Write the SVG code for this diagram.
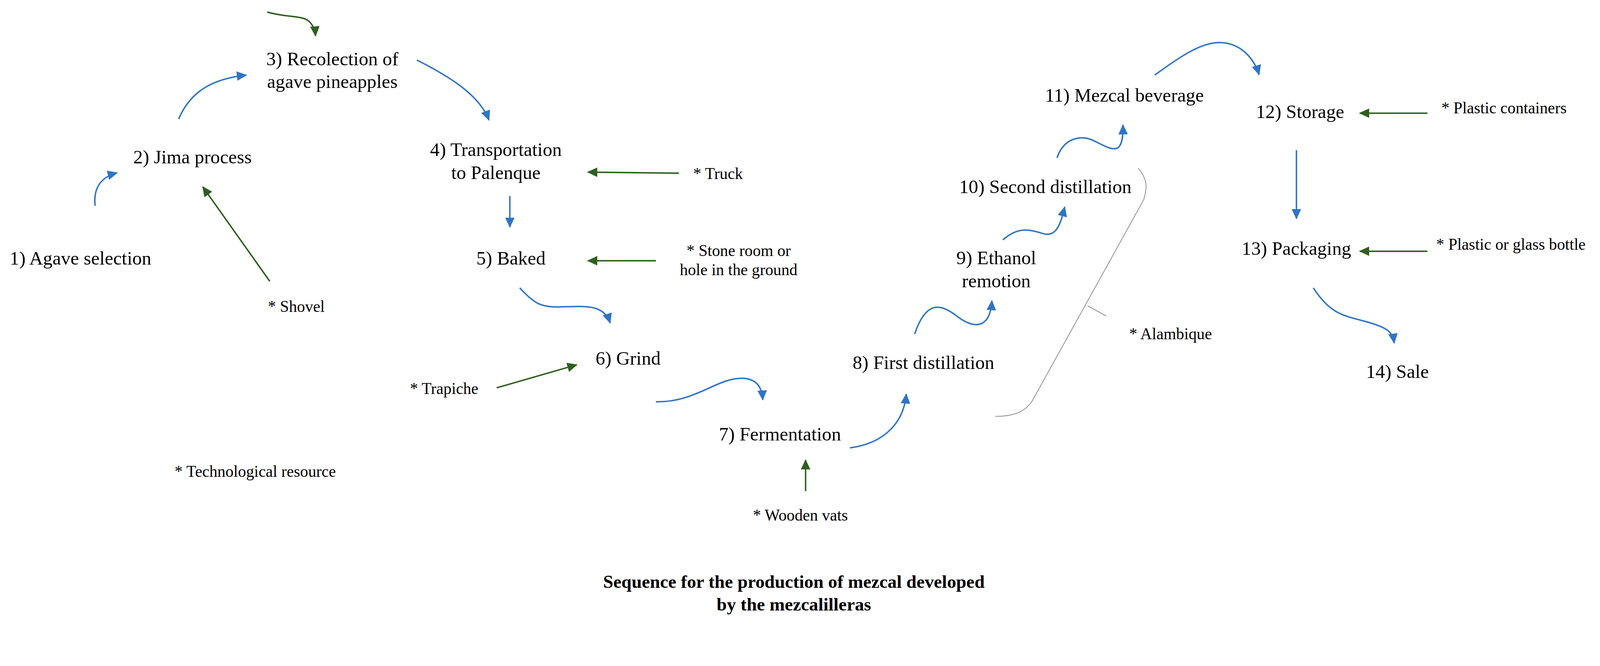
<svg xmlns="http://www.w3.org/2000/svg" width="4354" height="1704" viewBox="0 0 4354 1704" font-family="'Liberation Serif', 'DejaVu Serif', serif">
<style>
text{font-family:'Liberation Serif','DejaVu Serif',serif;fill:#000}
.n{font-size:52px;text-anchor:middle}
.r{font-size:44px}
.t{font-size:50px;font-weight:bold;text-anchor:middle}
.b{fill:none;stroke:#2e75c6;stroke-width:4;marker-end:url(#mb)}
.g{fill:none;stroke:#2f5f1f;stroke-width:4;marker-end:url(#mg)}
.k{fill:none;stroke:#8a8a8a;stroke-width:2}
</style>
<defs>
<marker id="mb" markerUnits="userSpaceOnUse" markerWidth="30" markerHeight="26" refX="26" refY="13" orient="auto"><path d="M0,0 L28,13 L0,26 Z" fill="#2e75c6"/></marker>
<marker id="mg" markerUnits="userSpaceOnUse" markerWidth="30" markerHeight="26" refX="26" refY="13" orient="auto"><path d="M0,0 L28,13 L0,26 Z" fill="#2f5f1f"/></marker>
</defs>
<rect width="4354" height="1704" fill="#fff"/>
<g transform="scale(0.937)">
<g id="connectors">
<path class="g" d="M730,33 C790,50 830,40 848,62 C858,74 861,84 862,98"/>
<path class="b" d="M260,562 C255,520 270,485 320,472"/>
<path class="b" d="M488,325 C520,250 580,215 673,205"/>
<path class="b" d="M1139,164 C1230,210 1310,260 1336,328"/>
<path class="b" d="M1393,535 L1393,620"/>
<path class="g" d="M1855,473 L1606,470"/>
<path class="g" d="M1792,712 L1606,712"/>
<path class="b" d="M1420,786 C1460,830 1480,840 1530,838 C1600,836 1650,830 1667,882"/>
<path class="g" d="M737,768 L554,510"/>
<path class="g" d="M1357,1059 L1576,996"/>
<path class="b" d="M1792,1097 C1900,1100 1960,1030 2030,1033 C2070,1035 2082,1060 2084,1092"/>
<path class="g" d="M2201,1341 L2201,1256"/>
<path class="b" d="M2322,1223 C2420,1210 2470,1150 2476,1076"/>
<path class="b" d="M2499,912 C2530,820 2570,830 2610,860 C2660,900 2705,900 2710,821"/>
<path class="b" d="M2740,655 C2780,620 2810,625 2850,638 C2890,650 2900,600 2909,565"/>
<path class="b" d="M2888,431 C2905,380 2950,365 2990,385 C3040,410 3070,430 3068,341"/>
<path class="b" d="M3155,205 C3230,150 3290,110 3345,117 C3400,124 3430,170 3440,204"/>
<path class="g" d="M3900,309 L3715,309"/>
<path class="b" d="M3542,410 L3542,597"/>
<path class="g" d="M3900,686 L3715,686"/>
<path class="b" d="M3588,786 C3630,850 3660,860 3720,875 C3790,893 3805,905 3809,937"/>
<path class="k" d="M3110,459 C3135,490 3135,510 3125,545 L2820,1095 C2800,1125 2770,1137 2719,1137"/>
<path class="k" d="M2972,835 L3022,863"/>
</g>
<g id="n1"><text class="n" x="220" y="723">1) Agave selection</text></g>
<g id="n2"><text class="n" x="526" y="446">2) Jima process</text></g>
<g id="n3"><text class="n" x="908" y="178">3) Recolection of</text><text class="n" x="908" y="240">agave pineapples</text></g>
<g id="n4"><text class="n" x="1355" y="426">4) Transportation</text><text class="n" x="1355" y="489">to Palenque</text></g>
<g id="n5"><text class="n" x="1396" y="723">5) Baked</text></g>
<g id="n6"><text class="n" x="1716" y="996">6) Grind</text></g>
<g id="n7"><text class="n" x="2131" y="1203">7) Fermentation</text></g>
<g id="n8"><text class="n" x="2523" y="1007">8) First distillation</text></g>
<g id="n9"><text class="n" x="2722" y="721">9) Ethanol</text><text class="n" x="2722" y="784">remotion</text></g>
<g id="n10"><text class="n" x="2856" y="527">10) Second distillation</text></g>
<g id="n11"><text class="n" x="3072" y="278">11) Mezcal beverage</text></g>
<g id="n12"><text class="n" x="3552" y="322">12) Storage</text></g>
<g id="n13"><text class="n" x="3542" y="696">13) Packaging</text></g>
<g id="n14"><text class="n" x="3818" y="1032">14) Sale</text></g>
<g id="r-truck"><text class="r" x="1894" y="489">* Truck</text></g>
<g id="r-stone"><text class="r" x="2018" y="699" text-anchor="middle">* Stone room or</text><text class="r" x="2018" y="751" text-anchor="middle">hole in the ground</text></g>
<g id="r-shovel"><text class="r" x="732" y="852">* Shovel</text></g>
<g id="r-trapiche"><text class="r" x="1120" y="1076">* Trapiche</text></g>
<g id="r-legend"><text class="r" x="477" y="1302">* Technological resource</text></g>
<g id="r-vats"><text class="r" x="2057" y="1422">* Wooden vats</text></g>
<g id="r-alambique"><text class="r" x="3085" y="926">* Alambique</text></g>
<g id="r-containers"><text class="r" x="3938" y="309">* Plastic containers</text></g>
<g id="r-bottle"><text class="r" x="3924" y="682">* Plastic or glass bottle</text></g>
<g id="title"><text class="t" x="2169" y="1605">Sequence for the production of mezcal developed</text><text class="t" x="2169" y="1667">by the mezcalilleras</text></g>
</g>
</svg>
